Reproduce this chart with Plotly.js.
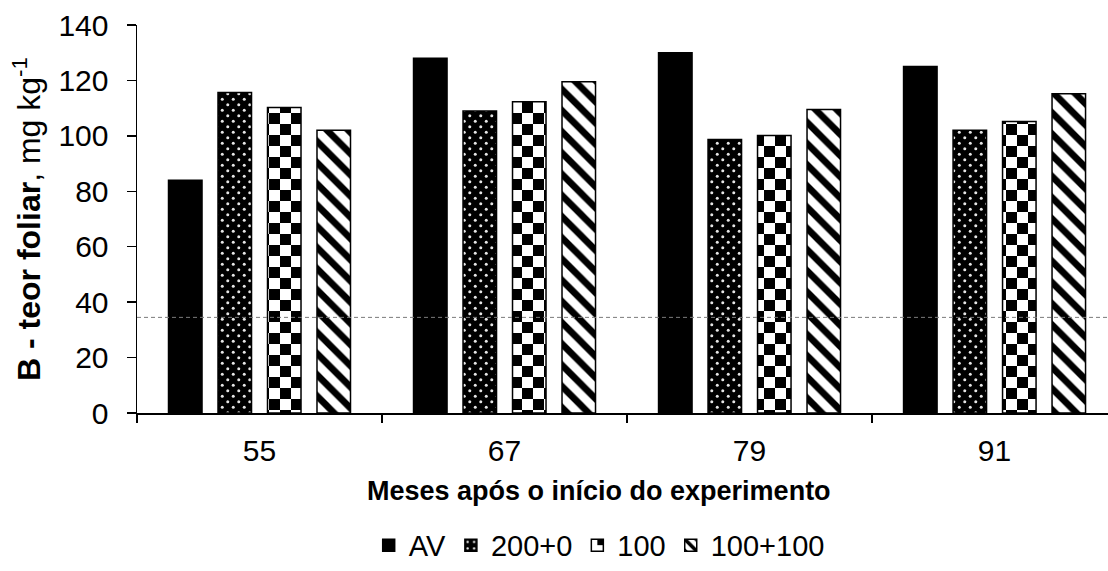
<!DOCTYPE html>
<html><head><meta charset="utf-8">
<script src="https://cdn.plot.ly/plotly-3.0.1.min.js"></script>
<style>html,body{margin:0;padding:0;background:#fff}#chart{width:1108px;height:571px}</style>
</head><body><div id="chart"></div>
<script>
// ---- data ----
const months = ['55', '67', '79', '91'];
const seriesNames = ['AV', '200+0', '100', '100+100'];
const avValues = [84, 128, 130, 125];
const dose200Values = [115.6, 109, 98.7, 102];
const dose100Values = [110.2, 112.3, 100.1, 105.2];
const dose100x2Values = [102, 119.5, 109.5, 115.2];
const referenceLevel = 34.5;
const yTickValues = [0, 20, 40, 60, 80, 100, 120, 140];

const FONT = 'Liberation Sans, Arial, sans-serif';
const lineStyle = {color: '#000', width: 1.5};

const traces = [
  {type: 'bar', name: seriesNames[0], x: months, y: avValues,
   marker: {color: '#000', line: lineStyle}},
  {type: 'bar', name: seriesNames[1], x: months, y: dose200Values,
   marker: {color: '#000', line: lineStyle,
            pattern: {shape: '.', bgcolor: '#000', fgcolor: '#fff', fillmode: 'replace', size: 8, solidity: 0.1}}},
  {type: 'bar', name: seriesNames[2], x: months, y: dose100Values,
   marker: {color: '#fff', line: lineStyle,
            pattern: {shape: '+', bgcolor: '#fff', fgcolor: '#000', fillmode: 'replace', size: 22, solidity: 0.5}}},
  {type: 'bar', name: seriesNames[3], x: months, y: dose100x2Values,
   marker: {color: '#fff', line: lineStyle,
            pattern: {shape: '\\', bgcolor: '#fff', fgcolor: '#000', fillmode: 'replace', size: 15, solidity: 0.45}}}
];

const layout = {
  width: 1108, height: 571,
  margin: {l: 137, r: 0, t: 25, b: 156},
  paper_bgcolor: '#fff', plot_bgcolor: '#fff',
  font: {family: FONT, color: '#000', size: 30},
  barmode: 'group', bargap: 0.192, bargroupgap: 0.323,
  showlegend: true,
  legend: {orientation: 'h', x: 0.476, xanchor: 'center', y: -0.341, yanchor: 'middle',
           font: {family: FONT, size: 29}, itemwidth: 30, tracegroupgap: 0},
  xaxis: {type: 'category', range: [-0.5, 3.463], tickson: 'boundaries',
          ticks: 'outside', ticklen: 8, tickwidth: 1.5, tickcolor: '#000',
          showline: true, linecolor: '#000', linewidth: 1.5, ticklabelstandoff: 10,
          showgrid: false, zeroline: false, tickfont: {size: 30}},
  yaxis: {range: [0, 140], tickvals: yTickValues, ticks: 'outside', ticklen: 9, tickwidth: 1.5,
          tickcolor: '#000', showline: true, linecolor: '#000', linewidth: 1.5, ticklabelstandoff: 12,
          showgrid: false, zeroline: false, tickfont: {size: 30},
          title: {text: '<b>B - teor foliar</b>, mg kg<sup>-1</sup>', font: {size: 32}, standoff: 8}},
  shapes: [{type: 'line', xref: 'paper', x0: 0, x1: 1, yref: 'y', y0: referenceLevel, y1: referenceLevel,
            line: {color: '#7a7a7a', width: 1, dash: '4px,3px'}}],
  annotations: [{text: '<b>Meses após o início do experimento</b>', xref: 'paper', yref: 'paper',
                 x: 0.476, y: -0.2, xanchor: 'center', yanchor: 'middle', showarrow: false,
                 font: {size: 27}}]
};

const gd = document.getElementById('chart');
Plotly.newPlot(gd, traces, layout, {staticPlot: true}).then(function () {
  const NS = 'http://www.w3.org/2000/svg';
  const svg = gd.querySelector('svg.main-svg');
  const defs = svg.querySelector('defs');
  function makePattern(id, w, h, bg, parts) {
    const pat = document.createElementNS(NS, 'pattern');
    pat.setAttribute('id', id);
    pat.setAttribute('patternUnits', 'userSpaceOnUse');
    pat.setAttribute('width', w); pat.setAttribute('height', h);
    const r0 = document.createElementNS(NS, 'rect');
    r0.setAttribute('width', w); r0.setAttribute('height', h); r0.setAttribute('fill', bg);
    pat.appendChild(r0);
    parts.forEach(function (p) {
      const el = document.createElementNS(NS, p.tag);
      Object.keys(p.attrs).forEach(function (k) { el.setAttribute(k, p.attrs[k]); });
      pat.appendChild(el);
    });
    defs.appendChild(pat);
  }
  // staggered white dots on black (200+0)
  makePattern('dots200', 11, 11, '#000', [
    {tag: 'circle', attrs: {cx: 2.75, cy: 2.75, r: 1.5, fill: '#e6e6e6'}},
    {tag: 'circle', attrs: {cx: 8.25, cy: 8.25, r: 1.5, fill: '#e6e6e6'}}
  ]);
  // checkerboard (100)
  makePattern('checker100', 22, 22, '#fff', [
    {tag: 'rect', attrs: {x: 0, y: 0, width: 11, height: 11, fill: '#000'}},
    {tag: 'rect', attrs: {x: 11, y: 11, width: 11, height: 11, fill: '#000'}}
  ]);
  makePattern('checker100legend', 14, 14, '#fff', [
    {tag: 'rect', attrs: {x: 0, y: 7, width: 7, height: 7, fill: '#000'}}
  ]);
  const barTraces = gd.querySelectorAll('.barlayer .trace');
  const fills = {1: 'url(#dots200)', 2: 'url(#checker100)'};
  Object.keys(fills).forEach(function (i) {
    if (barTraces[i]) barTraces[i].querySelectorAll('path').forEach(function (p) { p.style.fill = fills[i]; });
  });
  const legendItems = gd.querySelectorAll('.legend .traces');
  if (legendItems[2]) legendItems[2].querySelectorAll('.legendpoints path').forEach(function (p) { p.style.fill = 'url(#checker100legend)'; });
});
</script>
</body></html>
